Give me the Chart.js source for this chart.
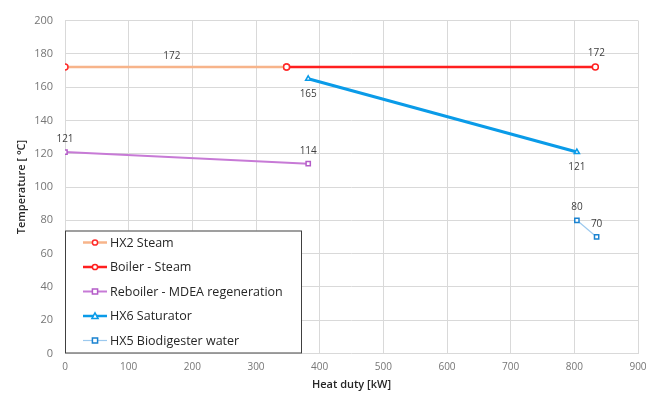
<!DOCTYPE html>
<html><head><meta charset="utf-8">
<script src="https://cdn.jsdelivr.net/npm/chart.js@4.4.1/dist/chart.umd.min.js"></script>
<style>html,body{margin:0;padding:0;background:#fff}#wrap{width:656px;height:399px;position:relative}</style>
</head><body><div id="wrap"><canvas id="c" width="656" height="399"></canvas></div>
<script>
// ---- data ----
const seriesNames = ['HX2 Steam','Boiler - Steam','Reboiler - MDEA regeneration','HX6 Saturator','HX5 Biodigester water'];
const hx2X = [0, 348],   hx2Y = [172, 172];
const boilerX = [348, 833], boilerY = [172, 172];
const reboilerX = [0, 382], reboilerY = [121, 114];
const hx6X = [382, 804], hx6Y = [165, 121];
const hx5X = [804, 835], hx5Y = [80, 70];
const xTicks = [0,100,200,300,400,500,600,700,800,900];
const yTicks = [0,20,40,60,80,100,120,140,160,180,200];

const pts = (xs, ys) => xs.map((x,i)=>({x, y: ys[i]}));

// label placement (style, not data)
const labelSpec = [
  {mode:'mid', dy:-11},
  {mode:'pts', idx:[1], dy:-14, dx:1},
  {mode:'pts', idx:[0,1], dy:-13},
  {mode:'pts', idx:[0,1], dy:15},
  {mode:'pts', idx:[0,1], dy:-13}
];

const font = "'Open Sans', 'Liberation Sans', sans-serif";

const labelPlugin = {
  id:'labels',
  afterDatasetsDraw(chart){
    const ctx = chart.ctx;
    ctx.save();
    ctx.font = '10px ' + font;
    ctx.fillStyle = '#404040';
    ctx.textAlign='center'; ctx.textBaseline='middle';
    chart.data.datasets.forEach((ds, di)=>{
      const meta = chart.getDatasetMeta(di);
      const spec = labelSpec[di];
      if (spec.mode==='mid'){
        const a = meta.data[0], b = meta.data[meta.data.length-1];
        ctx.fillText(String(ds.data[0].y), (a.x+b.x)/2 - 4, a.y + spec.dy);
      } else {
        spec.idx.forEach(i=>{
          const p = meta.data[i];
          ctx.fillText(String(ds.data[i].y), p.x + (spec.dx||0), p.y + spec.dy);
        });
      }
    });
    ctx.restore();
  }
};

const legendPlugin = {
  id:'boxLegend',
  afterDraw(chart){
    const ctx = chart.ctx;
    const xs = chart.scales.x, ys = chart.scales.y;
    const left = xs.left, bottom = ys.bottom;
    const boxW = 237, boxH = 123;
    ctx.save();
    ctx.fillStyle='#fff';
    ctx.fillRect(left, bottom-boxH, boxW, boxH);
    ctx.strokeStyle='#404040'; ctx.lineWidth=1;
    ctx.strokeRect(left+0.5, bottom-boxH+0.5, boxW-1, boxH-1);
    ctx.font = '12.5px ' + font;
    ctx.textAlign='left'; ctx.textBaseline='middle';
    chart.data.datasets.forEach((ds, i)=>{
      const y = bottom - boxH + 12 + i*24.5;
      const x0 = left + 18, x1 = left + 42, xm = (x0+x1)/2;
      ctx.strokeStyle = ds.borderColor; ctx.lineWidth = Math.min(ds.borderWidth, 2.5);
      ctx.beginPath(); ctx.moveTo(x0,y); ctx.lineTo(x1,y); ctx.stroke();
      ctx.fillStyle='#fff'; ctx.strokeStyle = ds.pointBorderColor; ctx.lineWidth=1.5;
      const r=2.6;
      ctx.beginPath();
      if (ds.pointStyle==='circle') ctx.arc(xm,y,r,0,Math.PI*2);
      else if (ds.pointStyle==='rect') ctx.rect(xm-r,y-r,2*r,2*r);
      else { ctx.moveTo(xm,y-r-0.5); ctx.lineTo(xm+r+0.5,y+r); ctx.lineTo(xm-r-0.5,y+r); ctx.closePath(); }
      ctx.fill(); ctx.stroke();
      ctx.fillStyle='#262626';
      ctx.fillText(ds.label, x1+3, y+0.5);
    });
    ctx.restore();
  }
};

function mk(label, data, color, ptColor, width, style){
  return {label, data, showLine:true, borderColor:color, backgroundColor:'#fff',
    borderWidth:width, pointStyle:style, pointRadius:3, pointBorderWidth:1.5,
    pointBorderColor:ptColor, pointBackgroundColor:'#fff', tension:0};
}

new Chart(document.getElementById('c'), {
  type:'scatter',
  data:{datasets:[
    mk(seriesNames[0], pts(hx2X,hx2Y), '#f7b48a', '#ff2a2a', 2.5, 'circle'),
    mk(seriesNames[1], pts(boilerX,boilerY), '#ff1f1f', '#ff1f1f', 2.5, 'circle'),
    mk(seriesNames[2], pts(reboilerX,reboilerY), '#c77ad6', '#b45cc8', 2, 'rect'),
    mk(seriesNames[3], pts(hx6X,hx6Y), '#0a9be8', '#0a9be8', 3, 'triangle'),
    mk(seriesNames[4], pts(hx5X,hx5Y), '#9cc9ee', '#1a82d0', 1.2, 'rect')
  ]},
  options:{
    responsive:false, animation:false,
    layout:{padding:{top:20.5, right:18, left:0, bottom:0}},
    plugins:{legend:{display:false}, tooltip:{enabled:false}},
    scales:{
      x:{type:'linear', min:0, max:900,
        afterBuildTicks(s){ s.ticks = xTicks.map(v=>({value:v})); },
        afterFit(s){ s.height = 45.5; },
        grid:{color:'#d9d9d9', lineWidth:1, drawTicks:false},
        border:{display:false},
        ticks:{color:'#767676', font:{family:font, size:10}, padding:8},
        title:{display:true, text:'Heat duty [kW]', color:'#262626', font:{family:font, size:11, weight:'600'}, padding:{top:0, bottom:8}}
      },
      y:{type:'linear', min:0, max:200,
        afterBuildTicks(s){ s.ticks = yTicks.map(v=>({value:v})); },
        afterFit(s){ s.width = 65; },
        grid:{color:'#d9d9d9', lineWidth:1, drawTicks:false},
        border:{display:false},
        ticks:{color:'#767676', font:{family:font, size:11}, padding:12},
        title:{display:true, text:'Temperature [ °C]', color:'#262626', font:{family:font, size:11, weight:'600'}, padding:{top:15, bottom:0}}
      }
    }
  },
  plugins:[labelPlugin, legendPlugin]
});
</script></body></html>
